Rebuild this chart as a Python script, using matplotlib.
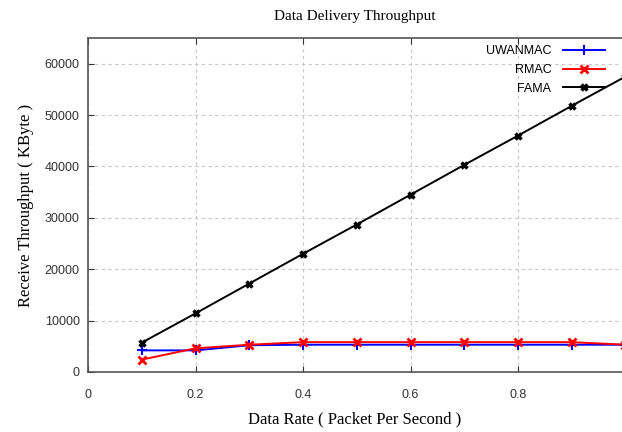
import matplotlib
matplotlib.use("Agg")
import matplotlib.pyplot as plt

x = [0.1, 0.2, 0.3, 0.4, 0.5, 0.6, 0.7, 0.8, 0.9, 1.0]
uwanmac = [4200, 4200, 5200, 5300, 5300, 5300, 5300, 5300, 5300, 5300]
rmac = [2400, 4600, 5300, 5800, 5800, 5800, 5800, 5800, 5800, 5300]
fama = [5700, 11400, 17200, 23000, 28700, 34500, 40300, 46000, 51800, 57500]
xticks = [0, 0.2, 0.4, 0.6, 0.8]
yticks = [0, 10000, 20000, 30000, 40000, 50000, 60000]

fig = plt.figure(figsize=(6.22, 4.32), dpi=100)
ax = fig.add_axes([0.1415, 0.139, 0.8585, 0.773])

ax.plot(x, uwanmac, color="#0000ff", marker="+", markersize=7, mew=1.5, lw=1.4, label="UWANMAC")
ax.plot(x, rmac, color="#ff0000", marker="x", markersize=6, mew=2, lw=1.4, label="RMAC")
ax.plot(x, fama, color="#000000", marker="x", markersize=5, mew=2.5, lw=1.4, label="FAMA")

ax.set_xlim(0, 0.9935)
ax.set_ylim(0, 65000)
ax.set_xticks(xticks)
ax.set_xticklabels([f"{t:g}" for t in xticks], fontfamily="Liberation Sans", fontsize=9, color="#333333")
ax.set_yticks(yticks)
ax.set_yticklabels([str(t) for t in yticks], fontfamily="Liberation Sans", fontsize=9, color="#333333")
ax.tick_params(direction="in", top=True, length=4, color="#333333")
ax.tick_params(axis="x", pad=12)
ax.tick_params(axis="y", pad=6)
ax.grid(True, color="#c8c8c8", linestyle=(0, (3, 3)), lw=0.8)
ax.spines["right"].set_visible(False)
for s in ["left", "top", "bottom"]:
    ax.spines[s].set_color("#555555")
    ax.spines[s].set_linewidth(1.2)

ax.set_title("Data Delivery Throughput", fontfamily="Liberation Serif", fontsize=11, pad=13)
ax.set_xlabel("Data Rate ( Packet Per Second )", fontfamily="Liberation Serif", fontsize=12, labelpad=8)
ax.set_ylabel("Receive Throughput ( KByte )", fontfamily="Liberation Serif", fontsize=12, labelpad=8)

leg = ax.legend(loc="upper right", frameon=False, markerfirst=False,
                prop={"family": "Liberation Sans", "size": 9},
                handlelength=3.4, handletextpad=0.9, borderaxespad=0.3, labelspacing=0.55,
                bbox_to_anchor=(0.985, 1.005))

fig.savefig("out.png", dpi=100)
